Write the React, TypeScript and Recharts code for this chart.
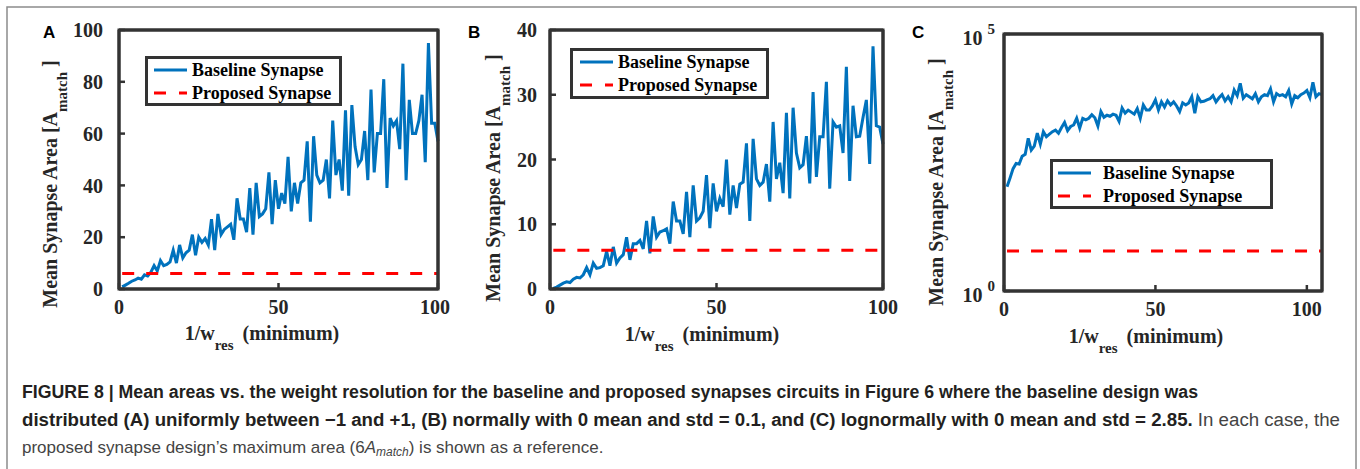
import React from 'react';
import { Legend, Line, LineChart, XAxis, YAxis } from 'recharts';

// Panel A: uniform weights, mean area per 1/w_res step
const uniformBaseline = [
  0.8, 1.5, 2.2, 3, 3.5, 4.2, 3.8, 5.5, 5, 6.5,
  9, 7, 11, 9, 9.5, 10.5, 15, 10, 17, 12,
  14, 15, 21, 13, 20, 18, 19.5, 17, 27, 15,
  29, 21, 23, 24, 25, 19, 35, 27, 27, 22,
  39, 21, 41, 28, 29, 31, 45, 25, 42, 31,
  37, 33, 51, 30, 41, 33, 41, 42, 57, 26,
  59, 44, 41, 42, 50, 35, 65, 44, 50, 38,
  69, 36, 71, 55, 48, 50, 61, 42, 77, 45,
  60, 60, 81, 39, 66, 63, 65, 54, 87, 42,
  73, 60, 60, 65, 75, 49, 95, 64, 64, 57,
];

// Panel B: normal weights
const normalBaseline = [
  0.1, 0.3, 0.6, 0.9, 1.1, 1.0, 1.5, 1.8, 1.7, 2.2,
  3.3, 2.2, 4.0, 3.2, 3.3, 3.6, 5.8, 3.6, 6.5, 4.0,
  4.8, 5.3, 8.0, 4.5, 7.0, 7.0, 7.5, 6.2, 10.5, 5.5,
  11.2, 8.0, 8.8, 9.0, 9.3, 7.0, 13.5, 10.5, 10.5, 8.5,
  15.0, 8.0, 16.0, 10.5, 11.0, 12.0, 17.6, 9.4, 16.3, 12.0,
  14.0, 12.7, 20.0, 11.5, 16.0, 12.5, 16.2, 16.5, 22.5, 10.5,
  23.2, 17.0, 16.0, 16.5, 19.3, 13.5, 25.8, 17.0, 19.5, 14.8,
  27.2, 14.0, 28.0, 21.0, 18.7, 19.2, 23.6, 16.3, 30.4, 17.3,
  23.5, 23.5, 32.0, 15.5, 25.8, 25.0, 25.2, 21.0, 34.3, 16.7,
  28.3, 23.5, 23.6, 26.5, 29.2, 19.3, 37.5, 25.2, 25.0, 22.4,
];

// Panel C: lognormal weights (log y axis)
const lognormalBaseline = [
  107, 158, 240, 302, 295, 417, 457, 933, 550, 661,
  1175, 724, 1259, 1000, 1122, 1259, 1349, 1175, 1514, 1905,
  1318, 1585, 1698, 2291, 1479, 2291, 2138, 2291, 2692, 2344,
  1622, 3090, 2399, 2630, 2512, 2754, 2630, 1995, 3631, 2884,
  3311, 3020, 2754, 3548, 2291, 4169, 3311, 3311, 3981, 5248,
  3311, 4786, 3802, 5012, 4169, 4786, 3981, 3090, 4571, 4169,
  4571, 6026, 2884, 6026, 4786, 4898, 5248, 5495, 6310, 4786,
  5754, 6607, 5012, 6026, 4786, 8128, 6310, 10965, 5623, 6607,
  6026, 5495, 6918, 4786, 6026, 6607, 6310, 8511, 4786, 6918,
  6310, 6607, 6026, 7943, 4365, 6310, 5754, 6607, 7079, 7943,
  5754, 11482, 6026, 6918, 6607,
];

const proposedMaxArea = 6;

const linearXTicks = [0, 50, 100];
const uniformYTicks = [0, 20, 40, 60, 80, 100];
const normalYTicks = [0, 10, 20, 30, 40];
const logYTicks = [1, 100000];

const toRows = (values: number[]) =>
  values.map((v, i) => ({ x: i + 1, baseline: v, proposed: proposedMaxArea }));

const serif = '"Liberation Serif", "Times New Roman", serif';
const sans = '"Liberation Sans", Arial, sans-serif';
const ink = '#262626';
const frame = '#333333';
const blue = '#0072BD';
const red = '#FF0000';

const axisLine = { stroke: frame, strokeWidth: 3 };
const tickLine = { stroke: frame, strokeWidth: 2.5 };
const tickFont = { fontFamily: serif, fontWeight: 700, fontSize: 20, fill: ink };

const PowerTick = (props: any) => {
  const { x, y, payload } = props;
  const exp = Math.round(Math.log10(payload.value));
  return (
    <text x={x} y={y + 11} textAnchor="end" fontFamily={serif} fontWeight={700} fontSize={20} fill={ink}>
      10
      <tspan dx={5} dy={-11} fontSize={15}>
        {exp}
      </tspan>
    </text>
  );
};

const yTitle = (cx: number, cy: number) => () => (
  <text
    x={cx}
    y={cy}
    transform={`rotate(-90 ${cx} ${cy})`}
    textAnchor="middle"
    fontFamily={serif}
    fontWeight={700}
    fontSize={20}
    fill={ink}
  >
    Mean Synapse Area [A
    <tspan dy={10} fontSize={15}>
      match
    </tspan>
    <tspan dy={-10}> ]</tspan>
  </text>
);

const xTitle = (cx: number, baseline: number) => () => (
  <text x={cx} y={baseline} textAnchor="middle" fontFamily={serif} fontWeight={700} fontSize={20} fill={ink}>
    1/w
    <tspan dy={10} fontSize={15}>
      res
    </tspan>
    <tspan dy={-10} dx={9}>
      (minimum)
    </tspan>
  </text>
);

const legendBox = (w: number, h: number, sampleX: number, textX: number) => () => (
  <svg width={w} height={h} style={{ display: 'block' }}>
    <rect x={1.5} y={1.5} width={w - 3} height={h - 3} fill="#fff" stroke={frame} strokeWidth={3} />
    <line x1={sampleX} x2={sampleX + 33} y1={14} y2={14} stroke={blue} strokeWidth={3} />
    <text x={textX} y={20} fontFamily={serif} fontWeight={700} fontSize={18} fill="#000">
      Baseline Synapse
    </text>
    <line x1={sampleX} x2={sampleX + 33} y1={37} y2={37} stroke={red} strokeWidth={3} strokeDasharray="12 13" />
    <text x={textX} y={43} fontFamily={serif} fontWeight={700} fontSize={18} fill="#000">
      Proposed Synapse
    </text>
  </svg>
);

interface PanelProps {
  left: number;
  values: number[];
  xMax: number;
  yDomain: [number, number];
  yTicks: number[];
  log?: boolean;
  margin: { top: number; right: number; bottom: number; left: number };
  yTickMargin: number;
  yLabelAt: [number, number];
  xLabelAt: [number, number];
  legend: { left: number; top: number; w: number; h: number; sampleX: number; textX: number };
}

const Panel = (p: PanelProps) => {
  const rows = toRows(p.values);
  const scale = p.log ? 'log' : 'linear';
  return (
    <div style={{ position: 'absolute', left: p.left, top: 0 }}>
      <LineChart width={450} height={360} data={rows} margin={p.margin}>
        <XAxis
          dataKey="x"
          type="number"
          domain={[0, p.xMax]}
          ticks={linearXTicks}
          height={50}
          tickSize={-6}
          tickMargin={17}
          axisLine={axisLine}
          tickLine={tickLine}
          tick={tickFont}
          label={xTitle(p.xLabelAt[0], p.xLabelAt[1])}
        />
        <XAxis
          xAxisId="top"
          dataKey="x"
          orientation="top"
          type="number"
          domain={[0, p.xMax]}
          ticks={linearXTicks}
          mirror
          tickSize={6}
          axisLine={axisLine}
          tickLine={tickLine}
          tick={false}
        />
        <YAxis
          type="number"
          scale={scale}
          domain={p.yDomain}
          ticks={p.yTicks}
          width={60}
          tickSize={-6}
          tickMargin={p.yTickMargin}
          axisLine={axisLine}
          tickLine={tickLine}
          tick={p.log ? PowerTick : tickFont}
          label={yTitle(p.yLabelAt[0], p.yLabelAt[1])}
        />
        <YAxis
          yAxisId="right"
          orientation="right"
          type="number"
          scale={scale}
          domain={p.yDomain}
          ticks={p.yTicks}
          mirror
          tickSize={6}
          axisLine={axisLine}
          tickLine={tickLine}
          tick={false}
        />
        {/* invisible twin so the top/right axes get a scale */}
        <Line
          xAxisId="top"
          yAxisId="right"
          dataKey="baseline"
          stroke="none"
          dot={false}
          activeDot={false}
          legendType="none"
          isAnimationActive={false}
        />
        <Line
          dataKey="baseline"
          type="linear"
          stroke={blue}
          strokeWidth={3}
          dot={false}
          isAnimationActive={false}
        />
        <Line
          dataKey="proposed"
          type="linear"
          stroke={red}
          strokeWidth={3}
          strokeDasharray="12 12"
          dot={false}
          isAnimationActive={false}
        />
        <Legend
          layout="horizontal"
          verticalAlign="middle"
          align="center"
          wrapperStyle={{ left: p.legend.left, top: p.legend.top, width: p.legend.w, height: p.legend.h }}
          content={legendBox(p.legend.w, p.legend.h, p.legend.sampleX, p.legend.textX)}
        />
      </LineChart>
    </div>
  );
};

// plot-area frames (left, top, right, bottom) matching the chart margins
const plotFrames = [
  [119, 30, 438, 289],
  [550, 30, 883, 289],
  [1004, 34, 1322, 291],
];

export default function App() {
  return (
    <div
      style={{
        position: 'absolute',
        left: 0,
        top: 0,
        width: 1360,
        height: 469,
        background: '#fff',
        overflow: 'hidden',
      }}
    >
      <svg width={1360} height={469} style={{ position: 'absolute', left: 0, top: 0 }}>
        <rect x={7} y={7} width={1349} height={480} fill="none" stroke="#8c8c8c" strokeWidth={1.5} />
        <text x={43} y={38} fontFamily={sans} fontWeight={700} fontSize={17} fill="#000">
          A
        </text>
        <text x={468} y={38} fontFamily={sans} fontWeight={700} fontSize={17} fill="#000">
          B
        </text>
        <text x={912} y={38} fontFamily={sans} fontWeight={700} fontSize={17} fill="#000">
          C
        </text>
        <g fontFamily='"Liberation Sans Narrow", "Liberation Sans", Arial, sans-serif' fontSize={18}>
          <text x={22} y={398} textLength={1176} lengthAdjust="spacingAndGlyphs" fontWeight={700} fill="#231f20">
            FIGURE 8 | Mean areas vs. the weight resolution for the baseline and proposed synapses circuits in Figure 6
            where the baseline design was
          </text>
          <text x={22} y={426} textLength={1318} lengthAdjust="spacingAndGlyphs" fill="#231f20">
            <tspan fontWeight={700}>
              distributed (A) uniformly between −1 and +1, (B) normally with 0 mean and std = 0.1, and (C) lognormally
              with 0 mean and std = 2.85.
            </tspan>
            <tspan fill="#444"> In each case, the</tspan>
          </text>
          <text x={22} y={453} fill="#444" fontSize={17}>
            proposed synapse design’s maximum area (6<tspan fontStyle="italic">A</tspan>
            <tspan fontStyle="italic" fontSize={12} dy={3}>
              match
            </tspan>
            <tspan dy={-3}>) is shown as a reference.</tspan>
          </text>
        </g>
      </svg>
      <Panel
        left={0}
        values={uniformBaseline}
        xMax={100}
        yDomain={[0, 100]}
        yTicks={uniformYTicks}
        margin={{ top: 30, right: 12, bottom: 21, left: 59 }}
        yTickMargin={22}
        yLabelAt={[57, 184]}
        xLabelAt={[262, 340]}
        legend={{ left: 145, top: 56, w: 197, h: 50, sampleX: 9, textX: 47 }}
      />
      <Panel
        left={450}
        values={normalBaseline}
        xMax={100}
        yDomain={[0, 40]}
        yTicks={normalYTicks}
        margin={{ top: 30, right: 17, bottom: 21, left: 40 }}
        yTickMargin={19}
        yLabelAt={[50, 178]}
        xLabelAt={[252, 341]}
        legend={{ left: 120, top: 48, w: 199, h: 51, sampleX: 10, textX: 48 }}
      />
      <Panel
        left={900}
        values={lognormalBaseline}
        xMax={105}
        yDomain={[1, 100000]}
        yTicks={logYTicks}
        log
        margin={{ top: 34, right: 28, bottom: 19, left: 44 }}
        yTickMargin={15}
        yLabelAt={[43, 182]}
        xLabelAt={[246, 343]}
        legend={{ left: 150, top: 159, w: 223, h: 50, sampleX: 8, textX: 53 }}
      />
      <svg width={1360} height={469} style={{ position: 'absolute', left: 0, top: 0, pointerEvents: 'none' }}>
        {plotFrames.map(([l, t, r, b], i) => (
          <rect key={i} x={l} y={t} width={r - l} height={b - t} fill="none" stroke={frame} strokeWidth={3} />
        ))}
      </svg>
    </div>
  );
}
